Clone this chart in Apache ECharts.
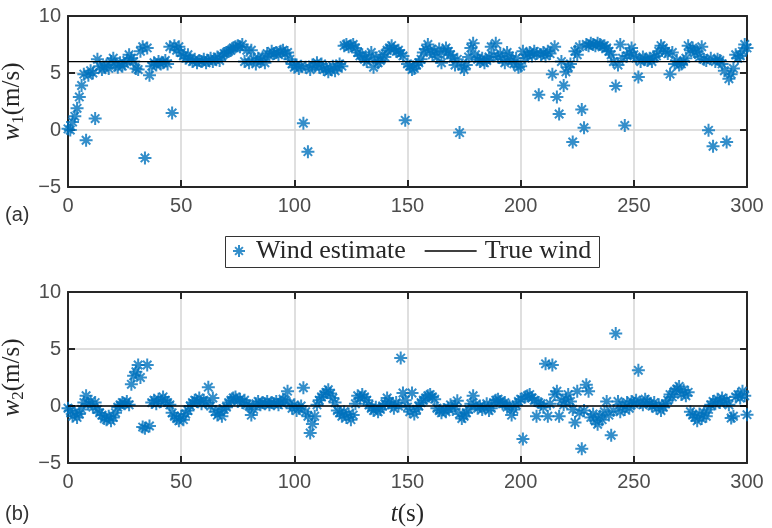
<!DOCTYPE html>
<html>
<head>
<meta charset="utf-8">
<script src="https://cdn.jsdelivr.net/npm/echarts@6/dist/echarts.min.js"></script>
<style>
  html, body { margin: 0; padding: 0; background: #ffffff; }
  #chart { width: 772px; height: 528px; }
</style>
</head>
<body>
<div id="chart"></div>
<script>
// Sampling period of the estimator output (s)
const sampleStep = 1;

// Estimated wind, north component w1 (m/s), one sample per second from t = 0 s
const windEstimateW1 = [
  0.1, 0.0, 0.7, 1.2, 1.9, 2.9, 3.9, 4.9, -0.9, 4.8,
  5.2, 5.0, 1.0, 6.2, 5.6, 5.3, 5.5, 5.7, 5.4, 6.0,
  6.3, 5.7, 5.5, 5.9, 5.6, 5.8, 6.1, 6.6, 6.3, 6.0,
  5.4, 5.3, 6.9, 7.3, -2.45, 7.2, 4.8, 5.6, 5.9, 5.7,
  6.0, 5.8, 5.9, 6.1, 5.8, 7.3, 1.5, 7.4, 7.0, 7.3,
  6.8, 6.5, 6.3, 6.6, 6.2, 6.0, 6.2, 5.9, 6.1, 6.0,
  6.2, 5.9, 6.1, 6.3, 6.0, 6.2, 6.4, 6.1, 6.5, 6.7,
  6.8, 6.9, 7.0, 7.2, 7.3, 7.4, 7.3, 7.5, 6.0, 7.0,
  5.9, 7.0, 6.2, 5.8, 6.3, 6.0, 6.4, 5.9, 6.7, 6.5,
  6.9, 6.7, 6.8, 6.6, 6.9, 7.0, 6.7, 6.8, 6.2, 5.8,
  5.5, 5.7, 5.4, 5.6, 0.6, 5.5, -1.9, 5.3, 5.7, 5.6,
  5.9, 5.5, 5.8, 5.3, 5.4, 5.1, 5.3, 5.6, 5.2, 5.5,
  5.8, 5.6, 7.4, 7.5, 7.3, 7.4, 7.5, 7.2, 6.8, 6.5,
  6.6, 6.2, 6.0, 6.4, 6.8, 5.5, 6.3, 5.9, 6.1, 6.6,
  6.4, 7.0, 7.2, 7.4, 7.1, 6.9, 7.0, 6.7, 6.5, 0.85,
  5.8, 5.6, 5.3, 5.4, 5.7, 5.9, 6.2, 6.8, 7.1, 7.5,
  7.0, 6.6, 6.9, 6.4, 7.1, 5.9, 6.8, 7.2, 6.9, 6.6,
  6.3, 5.7, 6.2, -0.23, 5.6, 5.3, 5.7, 6.4, 7.2, 7.6,
  6.6, 6.2, 6.0, 6.3, 5.9, 6.1, 6.4, 7.3, 6.5, 7.6,
  6.4, 6.7, 6.2, 5.9, 6.8, 6.5, 6.1, 5.8, 6.3, 5.5,
  5.6, 6.9, 6.3, 6.6, 6.8, 6.5, 6.9, 6.7, 3.1, 6.6,
  6.8, 6.5, 6.9, 6.7, 4.9, 7.3, 2.9, 1.4, 6.0, 3.9,
  5.1, 5.5, 5.8, -1.05, 6.9, 6.6, 7.3, 1.8, 0.2, 7.5,
  7.4, 7.6, 7.5, 7.4, 7.6, 7.5, 7.3, 7.4, 7.2, 6.9,
  6.6, 6.0, 3.85, 5.7, 7.5, 6.3, 0.4, 6.5, 6.8, 7.2,
  6.6, 6.3, 4.65, 6.0, 6.4, 6.2, 6.1, 6.3, 6.0, 6.4,
  6.5, 6.9, 7.4, 7.2, 6.9, 6.7, 4.9, 6.8, 5.8, 6.1,
  5.7, 5.8, 6.0, 6.3, 7.4, 7.0, 7.2, 6.8, 6.9, 6.4,
  7.3, 6.2, 6.1, -0.03, 6.3, -1.43, 6.0, 6.2, 6.1, 5.8,
  5.2, -1.05, 4.5, 4.9, 5.4, 6.6, 6.3, 6.5, 6.9, 7.5,
  7.2
];

// Estimated wind, east component w2 (m/s), same time base
const windEstimateW2 = [
  -0.2, -0.4, -0.9, -0.6, -1.0, -0.7, -0.3, 0.3, 0.9, 0.2,
  0.4, -0.1, 0.3, -0.3, -0.6, -0.8, -1.1, -1.2, -0.9, -1.3,
  -1.0, -0.6, -0.1, 0.1, 0.3, 0.2, 0.4, 0.1, 1.9, 2.65,
  3.0, 3.6, 2.5, -1.85, -1.95, 3.6, -1.75, 0.3, 0.5, 0.2,
  0.6, 0.4, 0.8, 0.5, 0.3, 0.1, -0.6, -0.9, -1.1, -1.3,
  -0.9, -1.2, -0.7, -0.4, 0.0, 0.3, 0.5, 0.4, 0.7, 0.2,
  0.5, 0.3, 1.65, 0.0, 0.7, -0.5, -0.8, -0.4, -0.9, -0.3,
  -0.1, 0.3, 0.5, 0.7, 0.8, 0.4, 0.6, 0.3, 0.5, 0.1,
  0.0, -0.8, -0.3, 0.2, 0.4, 0.1, 0.3, 0.2, 0.4, 0.1,
  0.3, 0.2, 0.4, 0.1, 0.3, 0.6, 0.5, 1.3, 0.2, -0.2,
  0.1, -0.4, -0.2, 0.0, 1.6, -0.5, -0.9, -2.37, -1.57, -0.9,
  0.1, 0.5, 0.8, 1.0, 1.2, 1.43, 1.1, 0.7, 0.3, -0.4,
  -0.6, -0.9, -0.5, -1.0, -0.7, -1.2, -0.8, 0.2, 0.9, 0.7,
  1.0, 0.8, 0.5, 0.1, -0.2, -0.4, -0.1, -0.5, -0.3, 0.0,
  0.2, 0.7, 0.4, 0.1, -0.2, 0.3, 0.0, 4.2, 1.14, 0.5,
  -0.1, -0.5, 1.14, -0.7, -0.3, 0.0, 0.3, 0.5, 0.7, 0.9,
  1.0, 0.8, 0.6, -0.2, -0.4, -0.6, -0.3, -0.5, -0.2, 0.1,
  -0.3, 0.0, 0.45, -0.7, -1.1, -0.9, -0.6, -0.3, 0.2, 0.9,
  0.1, -0.2, 0.0, -0.3, -0.1, 0.2, -0.4, -0.2, 0.3, 0.5,
  0.6, 0.4, 0.2, 0.3, -0.1, 0.0, -0.8, -0.3, 0.1, 0.4,
  0.6, -2.9, 0.8, 0.9, 1.0, 0.7, 0.5, -0.9, 0.3, 0.2,
  -0.1, 3.7, -0.9, 0.2, 3.6, 1.0, 1.3, -0.9, 0.5, 0.1,
  0.6, 1.0, 0.4, -0.3, -1.45, 1.3, -0.6, -3.75, -0.4, 1.87,
  1.3, -1.0, -0.7, -1.3, -1.6, -0.9, -1.2, -0.5, 0.4, -0.8,
  -2.57, -0.4, 6.35, 0.4, -0.5, 0.1, -0.3, 0.3, -0.2, 0.4,
  0.2, 0.5, 3.13, 0.3, 0.1, 0.6, 0.4, 0.2, 0.0, 0.3,
  -0.2, 0.1, -0.4, -0.1, 0.2, 0.5, 1.0, 0.8, 1.3, 1.5,
  1.72, 1.0, 1.4, 0.9, 1.2, -0.5, -0.8, -1.0, -1.3, -0.7,
  -1.1, -0.6, -0.9, -0.3, 0.1, 0.4, 0.2, 0.6, 0.3, 0.7,
  0.4, 0.5, 0.1, -1.05, -0.9, 0.8, 1.0, 0.7, 1.3, 0.9,
  -0.76
];

// True (constant) wind components over the run
const trueWindTimes = [0, 300];
const trueWindW1 = [6, 6];
const trueWindW2 = [0, 0];

// Axis ranges and tick spacing
const timeTicks = [0, 50, 100, 150, 200, 250, 300];
const windTicks = [-5, 0, 5, 10];

const seriesNames = ['Wind estimate', 'True wind'];

// ---------------------------------------------------------------------------
const toPairs = (vals) => vals.map((v, i) => [i * sampleStep, v]);
const linePairs = (ts, vals) => ts.map((t, i) => [t, vals[i]]);

const ink = '#262626';
const blue = '#0072BD';
const sans = 'Liberation Sans, Arial, Helvetica, sans-serif';
const serif = 'Liberation Serif, Times New Roman, serif';
const asterisk = 'path://M0,-10L0,10M-10,0L10,0M-6.5,-6.5L6.5,6.5M-6.5,6.5L6.5,-6.5';
const minus = (v) => String(v).replace('-', '\u2212');

const xMin = timeTicks[0], xMax = timeTicks[timeTicks.length - 1];
const xStep = timeTicks[1] - timeTicks[0];
const yMin = windTicks[0], yMax = windTicks[windTicks.length - 1];
const yStep = windTicks[1] - windTicks[0];

const tickStyle = { show: true, inside: true, length: 7, lineStyle: { color: ink, width: 2 } };
const lineStyle = { show: true, onZero: false, lineStyle: { color: ink, width: 2 } };
const gridLine = { show: true, lineStyle: { color: '#d4d4d4', width: 1.5 } };
const labelStyle = { fontFamily: sans, fontSize: 20, color: '#4d4d4d', formatter: minus };

const richName = {
  i: { fontFamily: serif, fontStyle: 'italic', fontSize: 25, lineHeight: 30, verticalAlign: 'middle', color: ink },
  s: { fontFamily: serif, fontSize: 17, lineHeight: 17, verticalAlign: 'bottom', color: ink },
  n: { fontFamily: serif, fontSize: 25, lineHeight: 30, verticalAlign: 'middle', color: ink }
};

function xAxes(gridIndex, withName) {
  const bottom = {
    type: 'value', gridIndex, position: 'bottom', min: xMin, max: xMax, interval: xStep,
    axisLine: lineStyle, axisTick: tickStyle, splitLine: gridLine,
    axisLabel: Object.assign({ margin: 9 }, labelStyle)
  };
  if (withName) {
    Object.assign(bottom, {
      name: '{i|t}{n|(s)}', nameLocation: 'middle', nameGap: 36,
      nameTextStyle: { rich: richName }
    });
  }
  const top = {
    type: 'value', gridIndex, position: 'top', min: xMin, max: xMax, interval: xStep,
    axisLine: lineStyle, axisTick: tickStyle, splitLine: { show: false }, axisLabel: { show: false }
  };
  return [bottom, top];
}

function yAxes(gridIndex, sub) {
  const left = {
    type: 'value', gridIndex, position: 'left', min: yMin, max: yMax, interval: yStep,
    axisLine: lineStyle, axisTick: tickStyle, splitLine: gridLine,
    axisLabel: Object.assign({ margin: 7 }, labelStyle),
    name: '{i|w}{s|' + sub + '}{n|(m/s)}', nameLocation: 'middle', nameGap: 30, nameRotate: 90,
    nameTextStyle: { rich: richName }
  };
  const right = {
    type: 'value', gridIndex, position: 'right', min: yMin, max: yMax, interval: yStep,
    axisLine: lineStyle, axisTick: tickStyle, splitLine: { show: false }, axisLabel: { show: false }
  };
  return [left, right];
}

function estimateSeries(axisIndex, values) {
  return {
    name: seriesNames[0], type: 'scatter', xAxisIndex: axisIndex, yAxisIndex: axisIndex,
    data: toPairs(values), symbol: asterisk, symbolSize: 13,
    itemStyle: { color: blue, borderColor: blue, borderWidth: 2 },
    emphasis: { disabled: true }, z: 3
  };
}

function trueSeries(axisIndex, values) {
  return {
    name: seriesNames[1], type: 'line', xAxisIndex: axisIndex, yAxisIndex: axisIndex,
    data: linePairs(trueWindTimes, values), symbol: 'none', showSymbol: false,
    lineStyle: { color: '#000000', width: 1.3 }, itemStyle: { color: '#000000' },
    emphasis: { disabled: true }, z: 4
  };
}

const legendText = { fontFamily: serif, fontSize: 26, color: ink };

const option = {
  animation: false,
  backgroundColor: '#ffffff',
  grid: [
    { left: 68, right: 25, top: 16, height: 171, outerBoundsMode: 'none', containLabel: false },
    { left: 68, right: 25, top: 292, height: 171, outerBoundsMode: 'none', containLabel: false }
  ],
  xAxis: [...xAxes(0, false), ...xAxes(1, true)],
  yAxis: [...yAxes(0, '1'), ...yAxes(1, '2')],
  legend: [
    {
      data: [seriesNames[0]], left: 232, top: 238, padding: 0, selectedMode: false,
      itemWidth: 12, itemHeight: 12,
      textStyle: Object.assign({ padding: [0, 0, 0, 6] }, legendText)
    },
    {
      data: [seriesNames[1]], left: 424, top: 238, padding: 0, selectedMode: false,
      itemWidth: 52, itemHeight: 12,
      itemStyle: { color: 'transparent', borderWidth: 0, opacity: 0 },
      lineStyle: { color: '#000000', width: 1.3 },
      textStyle: Object.assign({ padding: [0, 0, 0, 3] }, legendText)
    }
  ],
  graphic: [
    {
      type: 'rect', shape: { x: 225.5, y: 236.5, width: 374, height: 31 },
      style: { fill: 'none', stroke: '#333333', lineWidth: 1 }, silent: true
    },
    {
      type: 'text', x: 5, y: 215,
      style: { text: '(a)', fontFamily: sans, fontSize: 20, fill: '#333333', verticalAlign: 'middle' }
    },
    {
      type: 'text', x: 5, y: 514,
      style: { text: '(b)', fontFamily: sans, fontSize: 20, fill: '#333333', verticalAlign: 'middle' }
    }
  ],
  series: [
    estimateSeries(0, windEstimateW1),
    trueSeries(0, trueWindW1),
    estimateSeries(2, windEstimateW2),
    trueSeries(2, trueWindW2)
  ]
};

const chart = echarts.init(document.getElementById('chart'), null, { renderer: 'canvas' });
chart.setOption(option);
</script>
</body>
</html>
